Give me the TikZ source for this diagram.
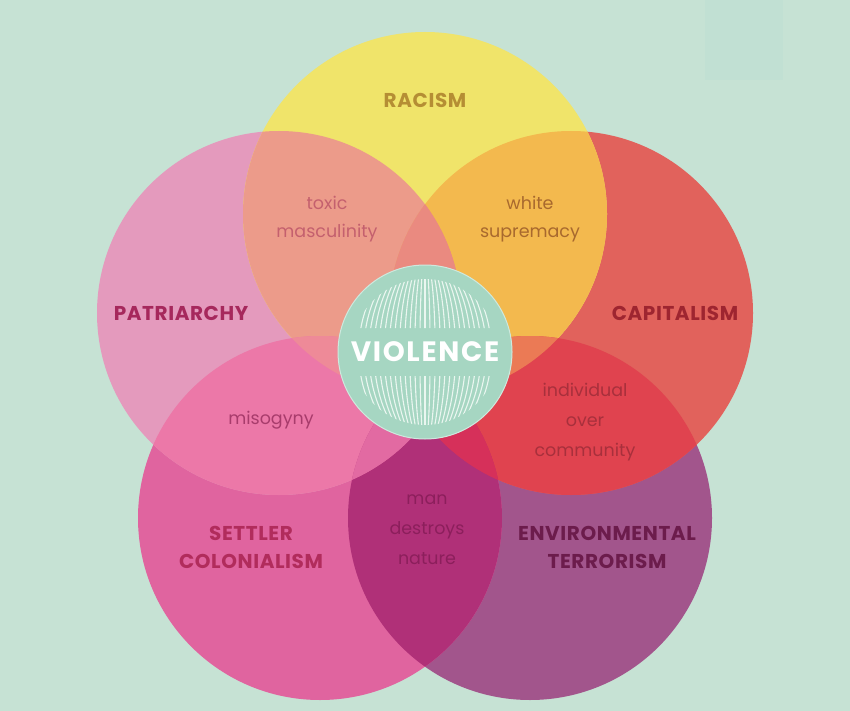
\documentclass[tikz,border=0pt]{standalone}
\usepackage{fontspec}
\setmainfont{Poppins}
\definecolor{bg}{HTML}{C6E2D4}
\definecolor{bgtwo}{HTML}{C1E0D3}
\definecolor{colY}{HTML}{F0E46A}
\definecolor{colP}{HTML}{E49ABD}
\definecolor{colR}{HTML}{E1625C}
\definecolor{colM}{HTML}{E0649F}
\definecolor{colE}{HTML}{A2558C}
\definecolor{colYP}{HTML}{EC9B8A}
\definecolor{colYR}{HTML}{F3B94E}
\definecolor{colYPR}{HTML}{EA8A80}
\definecolor{colPM}{HTML}{EC78A8}
\definecolor{colRE}{HTML}{E0434F}
\definecolor{colME}{HTML}{B03078}
\definecolor{colPME}{HTML}{E26AA2}
\definecolor{colRME}{HTML}{D6305A}
\definecolor{colYPM}{HTML}{EE8A98}
\definecolor{colYRE}{HTML}{EB7A55}
\definecolor{colV}{HTML}{A6D6C2}
\definecolor{stripe}{HTML}{EAF6F0}
\definecolor{tRacism}{HTML}{B58E34}
\definecolor{tToxic}{HTML}{C4606E}
\definecolor{tWhite}{HTML}{A8692E}
\definecolor{tPatr}{HTML}{A6285C}
\definecolor{tCap}{HTML}{9E2530}
\definecolor{tMis}{HTML}{A83C6C}
\definecolor{tInd}{HTML}{A8303C}
\definecolor{tMan}{HTML}{8C1F5C}
\definecolor{tSet}{HTML}{B12C5C}
\definecolor{tEnv}{HTML}{6C1C4C}
\begin{document}
\begin{tikzpicture}[x=1pt,y=-1pt,
  biglabel/.style={font=\fontsize{20}{28}\selectfont\bfseries\addfontfeatures{LetterSpace=3}, align=center, inner sep=0pt},
  smalllabel/.style={font=\fontsize{17.5}{30}\selectfont, align=center, inner sep=0pt},
  stripeline/.style={draw=stripe, line width=1.1pt}]
\def\R{182}
\useasboundingbox (0,0) rectangle (850,711);
\fill[bg] (0,0) rectangle (850,711);
\fill[bgtwo] (705,0) rectangle (783,80);
\coordinate (cY) at (425,214);
\coordinate (cP) at (279,313);
\coordinate (cR) at (571,313);
\coordinate (cM) at (320,518);
\coordinate (cE) at (530,518);
\coordinate (cV) at (425,352);
% single circles
\fill[colE] (cE) circle[radius=\R];
\fill[colM] (cM) circle[radius=\R];
\fill[colR] (cR) circle[radius=\R];
\fill[colP] (cP) circle[radius=\R];
\fill[colY] (cY) circle[radius=\R];
% pairs
\begin{scope}\clip (cY) circle[radius=\R]; \fill[colYP] (cP) circle[radius=\R]; \end{scope}
\begin{scope}\clip (cY) circle[radius=\R]; \fill[colYR] (cR) circle[radius=\R]; \end{scope}
\begin{scope}\clip (cP) circle[radius=\R]; \fill[colPM] (cM) circle[radius=\R]; \end{scope}
\begin{scope}\clip (cR) circle[radius=\R]; \fill[colRE] (cE) circle[radius=\R]; \end{scope}
\begin{scope}\clip (cM) circle[radius=\R]; \fill[colME] (cE) circle[radius=\R]; \end{scope}
\begin{scope}\clip (cP) circle[radius=\R]; \fill[colYPR] (cR) circle[radius=\R]; \end{scope}
\begin{scope}\clip (cP) circle[radius=\R]; \fill[colPME] (cE) circle[radius=\R]; \end{scope}
\begin{scope}\clip (cR) circle[radius=\R]; \fill[colRME] (cM) circle[radius=\R]; \end{scope}
% triples
\begin{scope}\clip (cY) circle[radius=\R]; \clip (cP) circle[radius=\R]; \fill[colYPR] (cR) circle[radius=\R]; \end{scope}
\begin{scope}\clip (cY) circle[radius=\R]; \clip (cP) circle[radius=\R]; \fill[colYPM] (cM) circle[radius=\R]; \end{scope}
\begin{scope}\clip (cY) circle[radius=\R]; \clip (cR) circle[radius=\R]; \fill[colYRE] (cE) circle[radius=\R]; \end{scope}
\begin{scope}\clip (cP) circle[radius=\R]; \clip (cM) circle[radius=\R]; \fill[colPME] (cE) circle[radius=\R]; \end{scope}
\begin{scope}\clip (cR) circle[radius=\R]; \clip (cE) circle[radius=\R]; \fill[colRME] (cM) circle[radius=\R]; \end{scope}
% centre circle
\fill[colV, draw=stripe!60!colV, line width=1pt] (cV) circle[radius=87];
\begin{scope}
  \clip (cV) circle[radius=73];
  \clip (300,278) rectangle (550,328) (300,376) rectangle (550,428);
  \foreach \k in {-13,...,13} {
    \draw[stripeline] plot[domain=-90:90, samples=40, smooth] ({425+\k*5.1*cos(\x)}, {352+95*sin(\x)});
  }
\end{scope}
% labels
\node[font=\fontsize{28}{32}\selectfont\bfseries\addfontfeatures{LetterSpace=6}, text=white, inner sep=0pt] (violence) at (cV) {VIOLENCE};
\node[biglabel, text=tRacism] (racism) at (425,100) {RACISM};
\node[biglabel, text=tPatr] (patriarchy) at (181,313) {PATRIARCHY};
\node[biglabel, text=tCap] (capitalism) at (675,313) {CAPITALISM};
\node[biglabel, text=tSet] (settler) at (251,547) {SETTLER\\COLONIALISM};
\node[biglabel, text=tEnv] (environ) at (607,547) {ENVIRONMENTAL\\TERRORISM};
\node[smalllabel, text=tToxic, font=\fontsize{17.5}{28}\selectfont] (toxic) at (327,219) {toxic\\masculinity};
\node[smalllabel, text=tWhite, font=\fontsize{17.5}{28}\selectfont] (white) at (530,219) {white\\supremacy};
\node[smalllabel, text=tMis] (misogyny) at (271,420) {misogyny};
\node[smalllabel, text=tInd] (individual) at (585,422) {individual\\over\\community};
\node[smalllabel, text=tMan] (man) at (427,530) {man\\destroys\\nature};
\end{tikzpicture}
\end{document}
